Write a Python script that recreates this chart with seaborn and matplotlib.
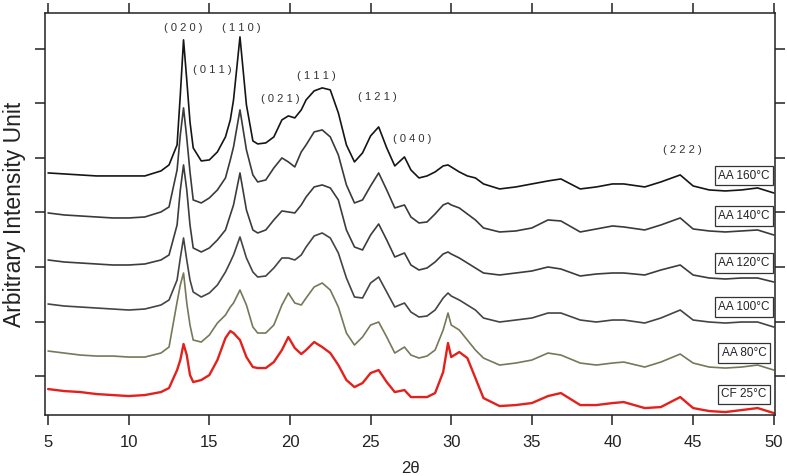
import numpy as np
import pandas as pd
import seaborn as sns
import matplotlib.pyplot as plt

# 2-theta sampling positions
two_theta = [5, 6, 7, 8, 9, 10, 11, 12, 12.5, 13, 13.2, 13.4, 13.6, 13.8, 14, 14.5, 15, 15.5, 16,
             16.3, 16.5, 16.9, 17.3, 17.7, 18, 18.5, 19, 19.5, 19.9, 20.3, 20.7, 21, 21.5, 22, 22.5,
             23, 23.5, 24, 24.5, 25, 25.5, 26, 26.5, 27.1, 27.5, 28, 28.5, 29, 29.5, 29.8, 30, 30.5,
             31, 31.5, 32, 33, 34, 35, 36, 36.8, 38, 39, 40, 40.7, 42, 43, 44.2, 45, 46, 47, 48, 49, 50]

# stacked intensities (arbitrary units), one list per sample
aa160 = [242, 241, 240, 239, 239, 239, 239, 244, 250, 270, 320, 375, 335, 293, 267, 254, 255, 263, 278,
         295, 315, 378, 310, 274, 271, 272, 278, 295, 299, 297, 305, 315, 324, 327, 325,
         302, 270, 253, 262, 279, 288, 267, 249, 258, 245, 237, 239, 243, 249, 250, 248, 243,
         239, 237, 231, 226, 228, 231, 234, 236, 226, 228, 231, 231, 228, 233, 240, 229, 225, 224, 225, 227, 222]
aa140 = [202, 200, 199, 198, 197, 197, 198, 203, 208, 245, 280, 307, 277, 243, 215, 212, 217, 225, 237,
         255, 268, 305, 265, 240, 233, 235, 247, 257, 253, 248, 263, 270, 283, 285, 278,
         260, 230, 212, 215, 229, 242, 225, 207, 210, 198, 192, 193, 201, 210, 212, 210, 207,
         201, 195, 187, 183, 184, 187, 195, 194, 183, 186, 189, 188, 185, 190, 197, 186, 184, 183, 184, 185, 180]
aa120 = [155, 153, 152, 151, 150, 150, 151, 155, 160, 190, 225, 250, 225, 190, 167, 163, 167, 175, 185,
         200, 210, 242, 205, 185, 182, 185, 195, 204, 203, 202, 210, 218, 228, 230, 227,
         215, 185, 168, 165, 180, 191, 175, 158, 162, 150, 145, 147, 153, 161, 163, 161, 157,
         152, 147, 142, 140, 142, 144, 148, 146, 139, 141, 142, 142, 140, 145, 150, 140, 137, 136, 137, 137, 133]
aa100 = [111, 109, 108, 107, 106, 105, 106, 110, 115, 135, 157, 177, 155, 135, 123, 118, 122, 130, 143,
         153, 160, 178, 157, 143, 138, 139, 147, 157, 157, 155, 160, 168, 179, 182, 177,
         162, 137, 118, 117, 132, 138, 123, 108, 112, 103, 98, 99, 105, 117, 122, 119, 115,
         110, 105, 97, 93, 95, 97, 102, 102, 95, 93, 95, 95, 92, 97, 105, 95, 93, 92, 93, 93, 88]
aa80 = [64, 62, 60, 59, 59, 58, 58, 62, 68, 113, 130, 142, 112, 90, 75, 73, 80, 92, 100,
        108, 112, 125, 110, 88, 82, 82, 90, 110, 122, 112, 110, 117, 128, 132, 125,
        108, 82, 70, 78, 90, 93, 78, 62, 68, 60, 57, 59, 65, 85, 102, 90, 85,
        75, 65, 57, 50, 52, 55, 62, 60, 52, 50, 52, 53, 48, 53, 61, 52, 48, 47, 48, 50, 45]
cf25 = [26, 24, 23, 21, 20, 19, 20, 23, 27, 45, 55, 71, 60, 40, 33, 35, 40, 55, 77,
        84, 82, 75, 58, 48, 47, 47, 53, 65, 78, 67, 61, 65, 73, 68, 62,
        50, 35, 28, 32, 42, 45, 33, 23, 25, 18, 18, 18, 22, 43, 72, 58, 63,
        57, 37, 17, 9, 10, 12, 19, 22, 10, 10, 12, 13, 7, 8, 18, 7, 4, 3, 5, 7, 2]

samples = ['AA 160°C', 'AA 140°C', 'AA 120°C', 'AA 100°C', 'AA 80°C', 'CF 25°C']
series = [aa160, aa140, aa120, aa100, aa80, cf25]
colors = ['#151515', '#3a3a3a', '#3c3c3c', '#444444', '#77775a', '#e3211c']
label_y = [239, 199, 152, 108, 62, 21]

# Miller index labels and where they sit
hkl_labels = ['(020)', '(011)', '(110)', '(021)', '(111)', '(121)', '(040)', '(222)']
hkl_x = [13.4, 15.2, 17.0, 19.4, 21.65, 25.4, 27.6, 44.35]
hkl_y = [387, 345, 387, 316, 339, 318, 276, 265]

df = pd.concat([pd.DataFrame({'2θ': two_theta, 'Intensity': s, 'Sample': name})
                for name, s in zip(samples, series)], ignore_index=True)

sns.set_theme(style='ticks')
plt.rcParams['font.family'] = ['Liberation Sans', 'DejaVu Sans']

fig = plt.figure(figsize=(7.87, 4.76), dpi=100)
ax = fig.add_axes([0.0572, 0.128, 0.928, 0.845])

sns.lineplot(data=df, x='2θ', y='Intensity', hue='Sample', palette=dict(zip(samples, colors)),
             sort=False, estimator=None, legend=False, linewidth=1.2, ax=ax)
ax.lines[-1].set_linewidth(1.7)

for name, yy in zip(samples, label_y):
    ax.text(48.15, yy, name, fontsize=8.5, ha='center', va='center', color='#222222',
            bbox=dict(boxstyle='square,pad=0.3', fc='white', ec='#333333', lw=0.9))

for lab, xx, yy in zip(hkl_labels, hkl_x, hkl_y):
    spaced = ' '.join(lab)
    ax.text(xx, yy, spaced, fontsize=8, ha='center', va='center', color='#333333')

ax.set_xlim(4.81, 50.1)
ax.set_ylim(0, 402)
ax.set_xticks(range(5, 51, 5))
ax.set_yticks([39, 93, 148, 203, 257, 312, 366])
ax.set_yticklabels([])
ax.tick_params(axis='both', direction='out', length=7, width=1.1, color='#222222',
               top=True, right=True, labelsize=12, labelcolor='#222222')
ax.tick_params(axis='x', pad=7)
for sp in ax.spines.values():
    sp.set_visible(True)
    sp.set_linewidth(1.1)
    sp.set_color('#222222')

ax.set_xlabel('2θ', fontsize=12, color='#222222', labelpad=8)
ax.set_ylabel('Arbitrary Intensity Unit', fontsize=16.5, color='#222222', labelpad=3)

fig.savefig('out.png', dpi=100)
